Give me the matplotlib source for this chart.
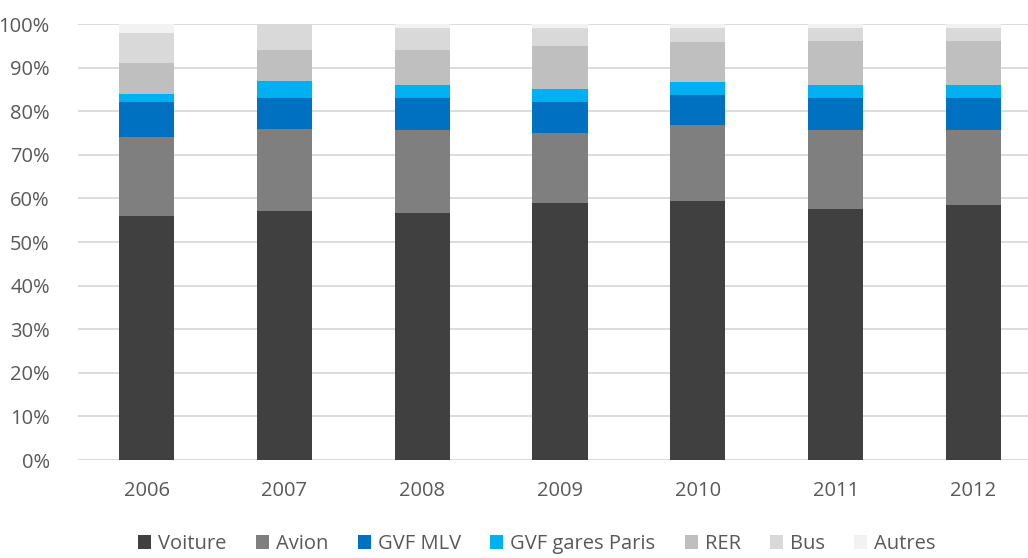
import matplotlib
matplotlib.use("Agg")
import matplotlib.pyplot as plt
import numpy as np
from matplotlib.ticker import FuncFormatter
from matplotlib.patches import Patch

years = ["2006", "2007", "2008", "2009", "2010", "2011", "2012"]
series_names = ["Voiture", "Avion", "GVF MLV", "GVF gares Paris", "RER", "Bus", "Autres"]
voiture = [56.0, 57.0, 56.6, 59.0, 59.5, 57.6, 58.6]
avion = [18.0, 19.0, 19.1, 16.0, 17.3, 18.1, 17.1]
gvf_mlv = [8.0, 7.0, 7.3, 7.0, 7.0, 7.3, 7.3]
gvf_paris = [2.0, 4.0, 3.0, 3.0, 3.0, 3.0, 3.0]
rer = [7.0, 7.0, 8.0, 10.0, 9.0, 10.0, 10.0]
bus = [7.0, 6.0, 5.0, 4.0, 3.2, 3.0, 3.0]
autres = [2.0, 0.0, 1.0, 1.0, 1.0, 1.0, 1.0]
colors = ["#404040", "#7f7f7f", "#0070c0", "#00b0f0", "#bfbfbf", "#d9d9d9", "#f2f2f2"]

plt.rcParams['font.family'] = ['Open Sans', 'DejaVu Sans']

fig = plt.figure(figsize=(10.28, 5.58), dpi=100)
W, H = 1028, 558
left, right, top, bottom = 77.6, 1042.4, 24, 460
ax = fig.add_axes([left / W, 1 - bottom / H, (right - left) / W, (bottom - top) / H])

x = np.arange(len(years))
base = np.zeros(len(years))
data = [voiture, avion, gvf_mlv, gvf_paris, rer, bus, autres]
for vals, c, name in zip(data, colors, series_names):
    v = np.array(vals)
    ax.bar(x, v, 0.4, bottom=base, color=c, label=name, zorder=3)
    base += v

ax.set_xlim(-0.5, len(years) - 0.5)
ax.set_ylim(0, 100)
ax.set_yticks(np.arange(0, 101, 10))
ax.yaxis.set_major_formatter(FuncFormatter(lambda v, p: f"{int(v)}%"))
ax.set_xticks(x)
ax.set_xticklabels(years)
ax.grid(axis='y', color='#d9d9d9', linewidth=1.3, zorder=0)
for s in ax.spines.values():
    s.set_visible(False)
ax.tick_params(axis='both', length=0, labelsize=14.5, colors='#595959')
ax.tick_params(axis='y', pad=20)
ax.tick_params(axis='x', pad=15)

handles = [Patch(facecolor=c, edgecolor='none') for c in colors]
fig.legend(handles, series_names, loc='center', bbox_to_anchor=(537 / W, 1 - 544 / H),
           ncol=7, frameon=False, fontsize=14.5, handlelength=0.65, handleheight=0.65,
           handletextpad=0.35, columnspacing=1.45, labelcolor='#595959')

fig.savefig("out.png", dpi=100)
